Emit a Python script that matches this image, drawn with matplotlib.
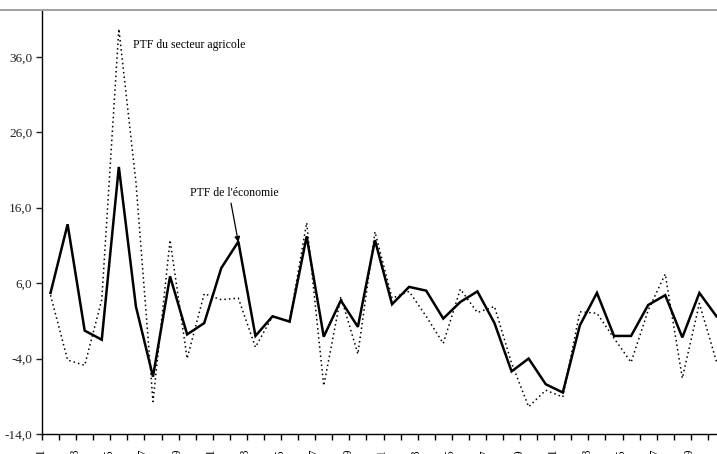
import matplotlib
matplotlib.use('Agg')
import matplotlib.pyplot as plt
import matplotlib.transforms as mtransforms
from matplotlib.lines import Line2D
import numpy as np

plt.rcParams['font.family'] = ['Liberation Serif', 'DejaVu Serif']

# années (étiquettes de l'axe, une sur deux)
annees = list(range(1961, 2001))
# taux de croissance de la PTF (%)
ptf_economie = [4.7, 13.8, -0.3, -1.5, 21.4, 2.9, -6.4, 6.9, -0.8, 0.7,
                8.0, 11.5, -1.0, 1.6, 0.9, 12.2, -1.1, 3.7, 0.2, 11.7,
                3.2, 5.5, 5.0, 1.3, 3.5, 4.9, 0.7, -5.7, -4.0, -7.4,
                -8.5, 0.4, 4.7, -1.0, -1.0, 3.1, 4.4, -1.2, 4.7, 1.6]
ptf_agricole = [4.4, -4.2, -4.9, 3.8, 39.7, 19.4, -9.7, 11.7, -4.0, 4.6,
                3.8, 4.0, -2.5, 1.6, 0.9, 14.0, -7.6, 4.2, -3.4, 12.8,
                4.0, 4.9, 1.6, -2.0, 5.2, 2.1, 2.9, -4.6, -10.4, -8.2,
                -9.1, 2.2, 2.0, -1.3, -4.5, 2.4, 7.2, -6.6, 3.3, -4.4]
y_ticks = [-14, -4, 6, 16, 26, 36]

W, H = 717, 454
fig = plt.figure(figsize=(W / 100, H / 100), dpi=100)
# zone du graphique (coupée à droite et en bas comme dans l'original)
ax = fig.add_axes([42 / W, 20 / H, 683 / W, 424 / H])

x = np.arange(len(annees))
ax.plot(x, ptf_economie, color='black', lw=1.8, solid_joinstyle='miter')
ax.plot(x, ptf_agricole, color='black', lw=1.1, linestyle=(0, (1, 2.0)))

ax.set_xlim(-0.5, len(annees) - 0.5)
ax.set_ylim(-14, 42.2)

for s in ['top', 'right']:
    ax.spines[s].set_visible(False)
ax.spines['left'].set_linewidth(1.0)
ax.spines['bottom'].set_linewidth(1.0)

ax.set_yticks(y_ticks)
ax.set_yticklabels([('%.1f' % v).replace('.', ',') for v in y_ticks], fontsize=9.5)
ax.tick_params(axis='y', length=4, width=1.0, pad=3, colors='#222222')

# graduations entre les catégories, étiquettes une année sur deux
ax.set_xticks(np.arange(-0.5, len(annees), 1.0))
ax.set_xticklabels([])
ax.tick_params(axis='x', which='major', length=4, width=1.0, direction='out')
ax.set_xticks(x[::2], minor=True)
ax.set_xticklabels([str(a) for a in annees[::2]], minor=True, rotation=90, fontsize=8.5)
ax.tick_params(axis='x', which='minor', length=0, pad=10)
offset = mtransforms.ScaledTranslation(-0.1, 0, fig.dpi_scale_trans)
for lab in ax.xaxis.get_minorticklabels():
    lab.set_transform(lab.get_transform() + offset)

ax.text(4.83, 37.6, 'PTF du secteur agricole', fontsize=8.5, va='center', ha='left')
ax.text(8.17, 18.0, "PTF de l'économie", fontsize=8.5, va='center', ha='left')
ax.annotate('', xy=(11.0, 11.4), xytext=(10.57, 16.6),
            arrowprops=dict(arrowstyle='-|>', color='black', lw=0.9,
                            mutation_scale=8, shrinkA=0, shrinkB=0))

# bord supérieur gris de la zone de graphique
fig.add_artist(Line2D([0, 1], [(H - 9.5) / H] * 2, color='#a0a0a0', lw=1.4,
                      transform=fig.transFigure))

fig.savefig('out.png', dpi=100)
